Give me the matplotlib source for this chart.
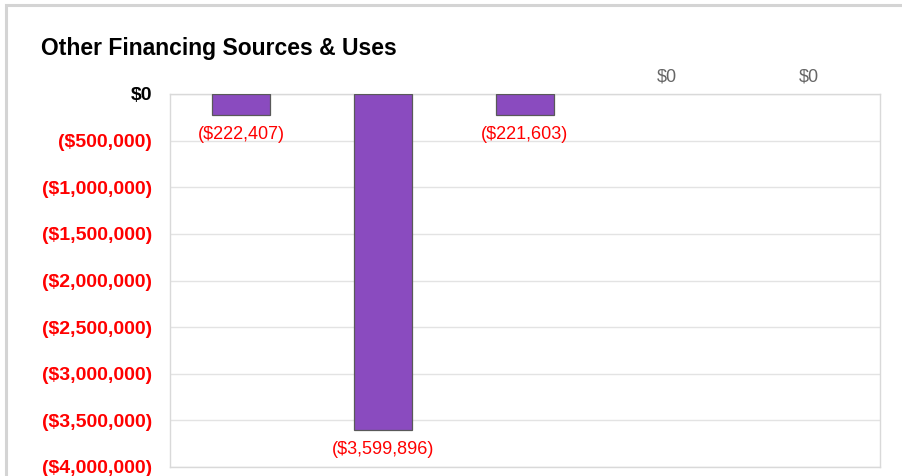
import matplotlib
matplotlib.use('Agg')
import matplotlib.pyplot as plt
from matplotlib.patches import Rectangle
import numpy as np

plt.rcParams['font.family'] = ['Liberation Sans', 'DejaVu Sans']

title = 'Other Financing Sources & Uses'
categories = ['A', 'B', 'C', 'D', 'E']
values = [-222407, -3599896, -221603, 0, 0]
yticks = [0, -500000, -1000000, -1500000, -2000000, -2500000,
          -3000000, -3500000, -4000000]


def money(v):
    if v < 0:
        return '(${:,.0f})'.format(-v)
    return '${:,.0f}'.format(v)


fig = plt.figure(figsize=(9.03, 4.76), dpi=100)

# chart frame with a soft shadow on the left/top
W, H = 903, 476
fig.patches.append(Rectangle((6 / W, -0.1), 1.2, 1 - 5 / H + 0.1,
                             transform=fig.transFigure, facecolor='none',
                             edgecolor='#d4d4d4', linewidth=2.2, zorder=-5))

ax = fig.add_axes([170 / W, 1 - 467 / H, 710 / W, 373 / H])
x = np.arange(len(categories))
bars = ax.bar(x, values, width=0.41, color='#8a4bbf', edgecolor='#595959',
              linewidth=0.9, zorder=3)
for b, v in zip(bars, values):
    if v == 0:
        b.set_linewidth(0)

ax.set_xlim(-0.5, len(categories) - 0.5)
ax.set_ylim(-4000000, 0)
ax.set_xticks([])
ax.set_yticks(yticks)
ax.set_yticklabels([money(v) for v in yticks], fontsize=14, fontweight='bold')
for lab, v in zip(ax.get_yticklabels(), yticks):
    lab.set_color('red' if v < 0 else 'black')
ax.tick_params(axis='y', length=0, pad=13)
ax.grid(axis='y', color='#e3e3e3', linewidth=1, zorder=0)
ax.set_axisbelow(True)
for s in ax.spines.values():
    s.set_color('#d9d9d9')
    s.set_linewidth(1)

for xi, v in zip(x, values):
    if v < 0:
        ax.annotate(money(v), (xi, v), xytext=(0, -14.5), textcoords='offset points',
                    ha='center', va='center', fontsize=13, color='red',
                    annotation_clip=False)
    else:
        ax.annotate(money(v), (xi, v), xytext=(0, 12.5), textcoords='offset points',
                    ha='center', va='center', fontsize=13, color='#666666',
                    annotation_clip=False)

fig.text(41 / W, 1 - 49 / H, title, fontsize=16.5, fontweight='bold',
         ha='left', va='center')

fig.savefig('out.png', dpi=100, facecolor='white')
